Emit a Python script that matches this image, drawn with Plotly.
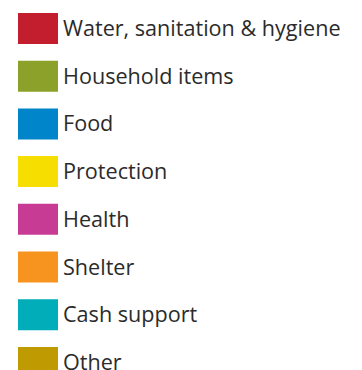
import plotly.graph_objects as go

categories = [
    "Water, sanitation & hygiene",
    "Household items",
    "Food",
    "Protection",
    "Health",
    "Shelter",
    "Cash support",
    "Other",
]
colors = [
    "#C21E2E",
    "#8BA12A",
    "#0085CA",
    "#F5DE00",
    "#C73B94",
    "#F7931F",
    "#00ADB8",
    "#BF9A00",
]
values = [1] * len(categories)

fig = go.Figure(
    go.Bar(
        y=categories,
        x=values,
        orientation="h",
        marker=dict(color=colors, line=dict(width=0)),
        width=0.65,
        hoverinfo="skip",
    )
)

fig.update_layout(
    width=362,
    height=370,
    margin=dict(l=10, r=312, t=0, b=0, pad=0),
    paper_bgcolor="white",
    plot_bgcolor="white",
    showlegend=False,
    font=dict(family="Open Sans", size=21.6, color="#2b2b2b"),
)
fig.update_xaxes(range=[0, 1], visible=False, fixedrange=True)
fig.update_yaxes(
    type="category",
    categoryorder="array",
    categoryarray=categories,
    range=[7.327, -0.4298],
    side="right",
    showgrid=False,
    zeroline=False,
    showline=False,
    ticks="",
    ticklabelstandoff=4,
    automargin=False,
)

fig.write_html("out.html")
